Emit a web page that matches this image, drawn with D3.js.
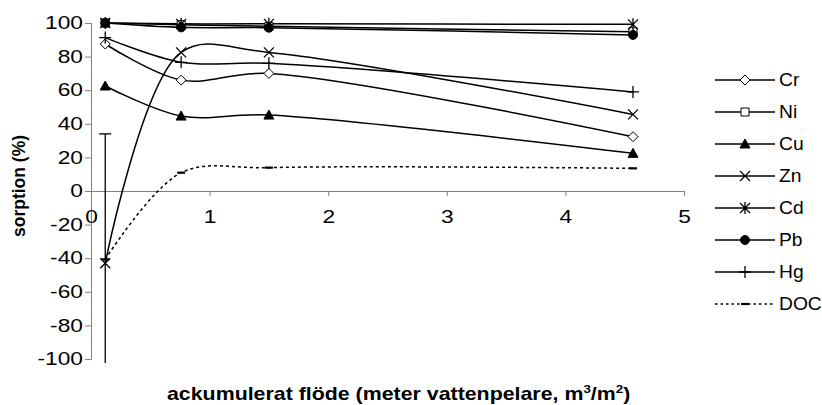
<!DOCTYPE html>
<html>
<head>
<meta charset="utf-8">
<script src="https://cdn.jsdelivr.net/npm/d3@7"></script>
<style>
  body { margin: 0; background: #fff; }
  svg { display: block; font-family: Arial, "Liberation Sans", sans-serif; }
</style>
</head>
<body>
<svg id="chart"></svg>
<script>
// flow values (x) for the four sampling points
const flow = [0.12, 0.76, 1.5, 4.57];

// sorption (%) per metal
const cr  = [87.5, 66, 70, 32.3];
const ni  = [100, 99, 98, 94.8];
const cu  = [62.5, 44.6, 45.2, 22.4];
const zn  = [-43, 82.5, 82.5, 45.6];
const cd  = [100, 99.5, 99.5, 99.2];
const pb  = [100, 97.4, 97.2, 92.9];
const hg  = [91.3, 76.6, 76, 59];
const doc = [-40.7, 10.9, 13.9, 13.5];

const seriesNames = ['Cr', 'Ni', 'Cu', 'Zn', 'Cd', 'Pb', 'Hg', 'DOC'];
const seriesValues = [cr, ni, cu, zn, cd, pb, hg, doc];

// error bar on first Zn point
const znErrUp = 77;
const znErrDown = 77;

const xTicks = [0, 1, 2, 3, 4, 5];
const yTicks = [-100, -80, -60, -40, -20, 0, 20, 40, 60, 80, 100];

const xTitle = 'ackumulerat flöde (meter vattenpelare, m';
const yTitle = 'sorption (%)';

const width = 822, height = 405;
const margins = { top: 23, bottom: 46, left: 91, right: 138 };

const svg = d3.select('#chart').attr('width', width).attr('height', height);
svg.append('rect').attr('width', width).attr('height', height).attr('fill', '#fff');

const x = d3.scaleLinear().domain([0, 5]).range([margins.left, width - margins.right]);
const y = d3.scaleLinear().domain([-100, 100]).range([height - margins.bottom, margins.top]);

const axisColor = '#808080';
const fs = 17.5;
const tickStretch = 1.3;   // the original text is drawn wide

// y axis
const yAxis = svg.append('g')
  .attr('transform', `translate(${margins.left},0)`)
  .call(d3.axisLeft(y).tickValues(yTicks).tickFormat(d => String(d)).tickSize(6).tickSizeOuter(6));
yAxis.select('.domain').attr('stroke', axisColor);
yAxis.selectAll('.tick line').attr('stroke', axisColor);
yAxis.selectAll('.tick text')
  .attr('font-size', fs).attr('fill', '#000').attr('font-family', null)
  .attr('x', 0)
  .attr('transform', `translate(-8,0) scale(${tickStretch},1)`);

// x axis at y=0
const xAxis = svg.append('g')
  .attr('transform', `translate(0,${y(0)})`)
  .call(d3.axisBottom(x).tickValues(xTicks).tickFormat(d => String(d)).tickSize(5).tickPadding(15).tickSizeOuter(0));
xAxis.select('.domain').attr('stroke', axisColor);
xAxis.selectAll('.tick line').attr('stroke', axisColor);
xAxis.selectAll('.tick text')
  .attr('font-size', fs).attr('fill', '#000').attr('font-family', null)
  .attr('transform', `scale(${tickStretch},1)`);
xAxis.selectAll('.tick').filter(d => d === 0).select('line').remove();

// axis titles
svg.append('text')
  .attr('transform', `translate(25,186) rotate(-90)`)
  .attr('text-anchor', 'middle')
  .attr('font-size', fs).attr('font-weight', 'bold')
  .text(yTitle);

const xt = svg.append('text')
  .attr('transform', 'translate(167,400) scale(1.22,1)')
  .attr('font-size', fs).attr('font-weight', 'bold')
  .text(xTitle);
xt.append('tspan').attr('font-size', 11).attr('dy', -7).text('3');
xt.append('tspan').attr('dy', 7).text('/m');
xt.append('tspan').attr('font-size', 11).attr('dy', -7).text('2');
xt.append('tspan').attr('dy', 7).text(')');

// marker shapes
const markers = {
  Cr:  { d: 'M0,-5L5,0L0,5L-5,0Z', fill: '#fff', sw: 1 },
  Ni:  { d: 'M-4,-4H4V4H-4Z', fill: '#fff', sw: 1 },
  Cu:  { d: 'M0,-5L5,4L-5,4Z', fill: '#000', sw: 1 },
  Zn:  { d: 'M-5,-5L5,5M5,-5L-5,5', fill: 'none', sw: 1.3 },
  Cd:  { d: 'M-5,-5L5,5M5,-5L-5,5M0,-6L0,6', fill: 'none', sw: 1.3 },
  Pb:  { circle: 4.5, fill: '#000', sw: 1 },
  Hg:  { d: 'M-6,0L6,0M0,-6L0,6', fill: 'none', sw: 1.3 },
  DOC: { d: 'M-4,0L4,0', fill: 'none', sw: 2.2 }
};

function drawMarker(g, name) {
  const m = markers[name];
  if (m.circle) {
    g.append('circle').attr('r', m.circle).attr('fill', m.fill).attr('stroke', '#000').attr('stroke-width', m.sw);
  } else {
    g.append('path').attr('d', m.d).attr('fill', m.fill).attr('stroke', '#000').attr('stroke-width', m.sw);
  }
}

const line = d3.line()
  .curve(d3.curveCatmullRom.alpha(0.5))
  .x((d, i) => x(flow[i]))
  .y(d => y(d));

// error bar
const ebTop = y(zn[0] + znErrUp);
const ebBottom = Math.min(y(zn[0] - znErrDown), y.range()[0] + 4);
svg.append('line')
  .attr('x1', x(flow[0])).attr('x2', x(flow[0]))
  .attr('y1', ebTop).attr('y2', ebBottom)
  .attr('stroke', '#000').attr('stroke-width', 1.3);
svg.append('line')
  .attr('x1', x(flow[0]) - 6).attr('x2', x(flow[0]) + 6)
  .attr('y1', ebTop).attr('y2', ebTop)
  .attr('stroke', '#000').attr('stroke-width', 1.3);

// lines
seriesNames.forEach((name, k) => {
  svg.append('path')
    .datum(seriesValues[k])
    .attr('d', line)
    .attr('fill', 'none')
    .attr('stroke', '#000')
    .attr('stroke-width', 1.5)
    .attr('stroke-dasharray', name === 'DOC' ? '3,3' : null);
});

// markers
seriesNames.forEach((name, k) => {
  seriesValues[k].forEach((v, i) => {
    const g = svg.append('g').attr('transform', `translate(${x(flow[i])},${y(v)})`);
    drawMarker(g, name);
  });
});

// legend
const legend = svg.append('g');
const legY0 = 80, legStep = 32;
seriesNames.forEach((name, k) => {
  const ly = legY0 + k * legStep;
  legend.append('line')
    .attr('x1', 715).attr('x2', 775).attr('y1', ly).attr('y2', ly)
    .attr('stroke', '#000').attr('stroke-width', 1.5)
    .attr('stroke-dasharray', name === 'DOC' ? '2.5,3' : null);
  const g = legend.append('g').attr('transform', `translate(745,${ly})`);
  drawMarker(g, name);
  legend.append('text')
    .attr('transform', `translate(779,${ly}) scale(1.1,1)`)
    .attr('dy', '0.35em')
    .attr('font-size', fs)
    .text(name);
});
</script>
</body>
</html>
